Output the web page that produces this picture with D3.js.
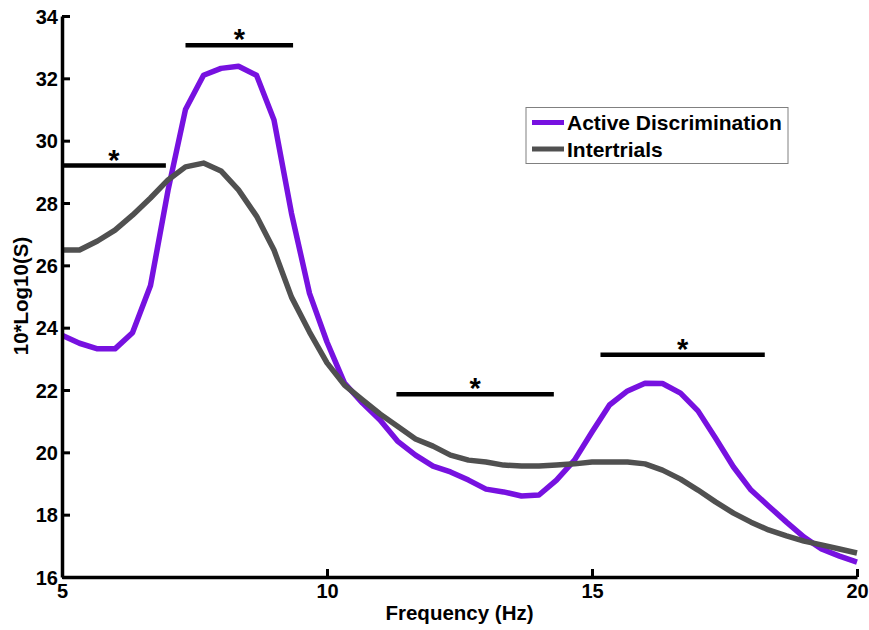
<!DOCTYPE html>
<html>
<head>
<meta charset="utf-8">
<script src="https://cdn.jsdelivr.net/npm/d3@7"></script>
<style>
  html, body { margin: 0; padding: 0; background: #fff; }
  svg { display: block; font-family: Arial, "Liberation Sans", sans-serif; font-weight: bold; }
</style>
</head>
<body>
<svg id="chart" width="869" height="630"></svg>
<script>
// Frequency bins (Hz)
const freqs = [5.00, 5.33, 5.67, 6.00, 6.33, 6.67, 7.00, 7.33, 7.67, 8.00,
               8.33, 8.67, 9.00, 9.33, 9.67, 10.00, 10.33, 10.67, 11.00, 11.33,
               11.67, 12.00, 12.33, 12.67, 13.00, 13.33, 13.67, 14.00, 14.33, 14.67,
               15.00, 15.33, 15.67, 16.00, 16.33, 16.67, 17.00, 17.33, 17.67, 18.00,
               18.33, 18.67, 19.00, 19.33, 19.67, 20.00];

// Spectral power, 10*log10(S)
const activeDiscrimination = [23.76, 23.50, 23.32, 23.32, 23.84, 25.35, 28.40, 31.00, 32.10, 32.32,
                              32.39, 32.10, 30.66, 27.67, 25.10, 23.54, 22.22, 21.58, 21.04, 20.36,
                              19.91, 19.56, 19.37, 19.11, 18.82, 18.73, 18.60, 18.63, 19.11, 19.75,
                              20.65, 21.52, 21.97, 22.22, 22.21, 21.90, 21.33, 20.46, 19.53, 18.79,
                              18.28, 17.76, 17.28, 16.90, 16.67, 16.48];
const intertrials = [26.49, 26.49, 26.78, 27.13, 27.61, 28.16, 28.74, 29.16, 29.28, 29.03,
                     28.42, 27.58, 26.49, 24.98, 23.86, 22.87, 22.16, 21.68, 21.23, 20.84,
                     20.43, 20.20, 19.91, 19.75, 19.69, 19.59, 19.56, 19.56, 19.59, 19.63,
                     19.69, 19.69, 19.69, 19.63, 19.43, 19.14, 18.79, 18.41, 18.05, 17.76,
                     17.51, 17.32, 17.15, 17.03, 16.90, 16.77];

// Significant frequency ranges (start Hz, end Hz, marker level)
const sigStart = [5.00, 7.33, 11.31, 15.16];
const sigEnd   = [6.96, 9.36, 14.28, 18.26];
const sigLevel = [29.20, 33.06, 21.86, 23.13];

// Axis ticks
const xTicks = [5, 10, 15, 20];
const yTicks = [16, 18, 20, 22, 24, 26, 28, 30, 32, 34];

const seriesNames = ["Active Discrimination", "Intertrials"];
const seriesColors = ["#7711e0", "#505050"];

const svg = d3.select("#chart");
const margin = { left: 62, right: 12, top: 16, bottom: 53 };
const W = 869, H = 630;

const x = d3.scaleLinear().domain([5, 20]).range([margin.left, W - margin.right]);
const y = d3.scaleLinear().domain([16, 34]).range([H - margin.bottom, margin.top]);

// Curves
const line = d3.line().x(d => x(d[0])).y(d => y(d[1]));
[activeDiscrimination, intertrials].forEach((vals, i) => {
  svg.append("path")
    .datum(freqs.map((f, j) => [f, vals[j]]))
    .attr("fill", "none")
    .attr("stroke", seriesColors[i])
    .attr("stroke-width", 5.5)
    .attr("stroke-linejoin", "round")
    .attr("d", line);
});

// Significance bars with asterisks
const sig = sigStart.map((s, i) => ({ s, e: sigEnd[i], v: sigLevel[i] }));
svg.selectAll("line.sig").data(sig).join("line")
  .attr("class", "sig")
  .attr("x1", d => x(d.s)).attr("x2", d => x(d.e))
  .attr("y1", d => y(d.v)).attr("y2", d => y(d.v))
  .attr("stroke", "#000").attr("stroke-width", 4.5);
svg.selectAll("text.star").data(sig).join("text")
  .attr("class", "star")
  .attr("x", d => x((d.s + d.e) / 2))
  .attr("y", d => y(d.v) + 4)
  .attr("text-anchor", "middle")
  .attr("font-size", 29)
  .text("*");

// Axes
const xAxis = d3.axisBottom(x).tickValues(xTicks).tickFormat(d3.format("d"))
  .tickSizeInner(-8).tickSizeOuter(0).tickPadding(7);
const yAxis = d3.axisLeft(y).tickValues(yTicks).tickFormat(d3.format("d"))
  .tickSizeInner(-8).tickSizeOuter(0).tickPadding(4);

const gx = svg.append("g").attr("transform", `translate(0,${y(16)})`).call(xAxis);
const gy = svg.append("g").attr("transform", `translate(${x(5)},0)`).call(yAxis);
[gx, gy].forEach(g => {
  g.select(".domain").attr("stroke", "#000").attr("stroke-width", 3.5);
  g.selectAll(".tick line").attr("stroke", "#000").attr("stroke-width", 3);
  g.selectAll(".tick text").attr("fill", "#000")
    .attr("font-size", 20).attr("font-weight", "bold")
    .attr("font-family", "Arial, 'Liberation Sans', sans-serif");
});
gy.selectAll(".tick text").attr("dy", "0.35em");

// Axis titles
svg.append("text")
  .attr("x", (x(5) + x(20)) / 2).attr("y", 620)
  .attr("text-anchor", "middle").attr("font-size", 20.5)
  .text("Frequency (Hz)");
svg.append("text")
  .attr("transform", `translate(28,${296}) rotate(-90)`)
  .attr("text-anchor", "middle").attr("font-size", 20.5)
  .text("10*Log10(S)");

// Legend
const lg = svg.append("g").attr("transform", "translate(526,107.5)");
lg.append("rect").attr("width", 262).attr("height", 56)
  .attr("fill", "#fff").attr("stroke", "#808080").attr("stroke-width", 1);
seriesNames.forEach((name, i) => {
  const cy = 15 + i * 26.5;
  lg.append("line").attr("x1", 6).attr("x2", 38).attr("y1", cy).attr("y2", cy)
    .attr("stroke", seriesColors[i]).attr("stroke-width", 5);
  lg.append("text").attr("x", 41).attr("y", cy + 7.5)
    .attr("font-size", 21).text(name);
});
</script>
</body>
</html>
